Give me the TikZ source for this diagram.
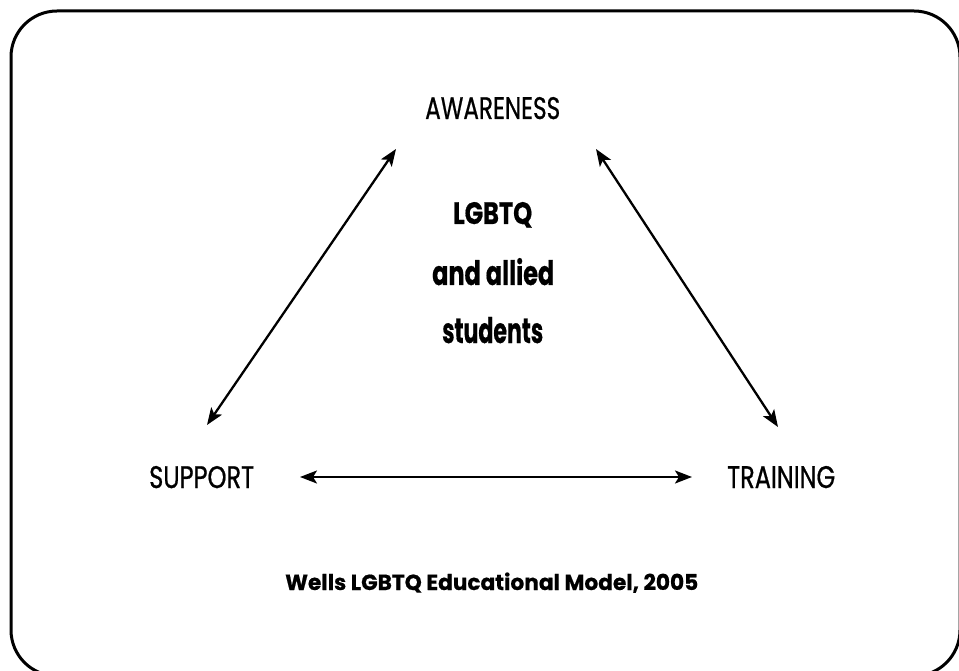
\documentclass[tikz,border=0pt]{standalone}
\usepackage{fontspec}
\setmainfont{Poppins}
\newfontfamily\labfont[FakeBold=0.8]{Poppins}
\newfontfamily\heavyfont[FakeBold=0.6]{Poppins}
\usepackage{graphicx}
\usetikzlibrary{arrows.meta}
\newcommand{\fitbox}[3]{\resizebox{#1pt}{#2pt}{#3}}
\tikzset{
  lbl/.style={inner sep=0pt, anchor=base west, text=black},
  link/.style={line width=2.3pt, {Stealth[length=17pt,width=13pt,inset=4pt]}-{Stealth[length=17pt,width=13pt,inset=4pt]}},
  frame/.style={line width=3pt, rounded corners=46pt}
}
\begin{document}
\begin{tikzpicture}[x=1pt,y=-1pt]
\useasboundingbox (0,0) rectangle (959,671);
\clip (0,0) rectangle (959,671);
\fill[white] (0,0) rectangle (959,671);
\draw[frame] (11,11) rectangle (960,676);
% labels
\node[lbl] (aw) at (425,119) {\fitbox{135}{22}{\labfont AWARENESS}};
\node[lbl] (su) at (149,488) {\fitbox{105}{22}{\labfont SUPPORT}};
\node[lbl] (tr) at (727,488) {\fitbox{108}{22}{\labfont TRAINING}};
\node[lbl] (c1) at (453,224) {\fitbox{79}{22}{\heavyfont\bfseries LGBTQ}};
\node[lbl] (c2) at (432,285) {\fitbox{122}{27}{\heavyfont\bfseries and allied}};
\node[lbl] (c3) at (442,343) {\fitbox{101}{26}{\heavyfont\bfseries students}};
\node[lbl] (cap) at (285,590) {\fitbox{413}{17.5}{\heavyfont\bfseries Wells LGBTQ Educational Model, 2005}};
% arrow ends
\coordinate (awL) at (396,149);
\coordinate (awR) at (596,149);
\coordinate (suT) at (207,425);
\coordinate (suR) at (300,477);
\coordinate (trT) at (778,427);
\coordinate (trL) at (692,477);
\draw[link] (awL) -- (suT);
\draw[link] (awR) -- (trT);
\draw[link] (suR) -- (trL);
\end{tikzpicture}
\end{document}
